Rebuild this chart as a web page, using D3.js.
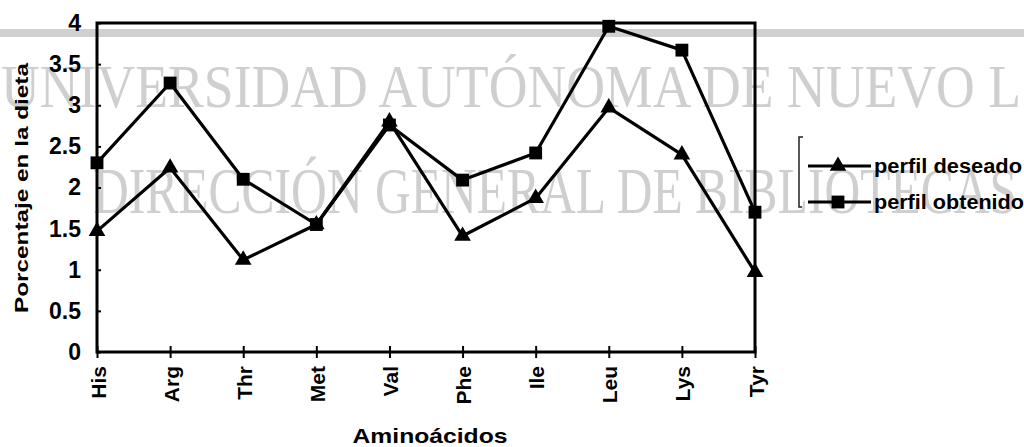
<!DOCTYPE html>
<html>
<head>
<meta charset="utf-8">
<script src="https://cdn.jsdelivr.net/npm/d3@7"></script>
<style>
  html, body { margin: 0; padding: 0; background: #fff; }
  svg { display: block; }
</style>
</head>
<body>
<svg id="chart" width="1024" height="447"></svg>
<script>
// ---- data ----
const categories = ["His", "Arg", "Thr", "Met", "Val", "Phe", "Ile", "Leu", "Lys", "Tyr"];
const perfilDeseado = [1.47, 2.24, 1.12, 1.55, 2.80, 1.41, 1.87, 2.97, 2.40, 0.97];
const perfilObtenido = [2.30, 3.27, 2.10, 1.55, 2.76, 2.09, 2.42, 3.96, 3.67, 1.70];
const yTicks = [0, 0.5, 1, 1.5, 2, 2.5, 3, 3.5, 4];
const seriesNames = ["perfil deseado", "perfil obtenido"];
const yTitle = "Porcentaje en la dieta";
const xTitle = "Aminoácidos";
const watermark1 = "UNIVERSIDAD AUTÓNOMA DE NUEVO L";
const watermark2 = "DIRECCIÓN GENERAL DE BIBLIOTECAS";

const svg = d3.select("#chart");
const W = 1024, H = 447;
const plot = { left: 97, right: 755, top: 23, bottom: 352 };

svg.append("rect").attr("width", W).attr("height", H).attr("fill", "#fff");

// ---- scan watermark (behind the chart) ----
svg.append("rect").attr("x", 0).attr("y", 29).attr("width", W).attr("height", 8).attr("fill", "#d0d0d0");
const wm = svg.append("g").attr("fill", "#cfcfcf").attr("font-family", "'Liberation Serif', 'Times New Roman', serif");
wm.append("text").attr("x", 1).attr("y", 107).attr("font-size", 62)
  .attr("textLength", 1020).attr("lengthAdjust", "spacingAndGlyphs").text(watermark1);
wm.append("text").attr("x", 93).attr("y", 213).attr("font-size", 66)
  .attr("textLength", 924).attr("lengthAdjust", "spacingAndGlyphs").text(watermark2);

// ---- scales ----
const x = d3.scalePoint().domain(categories).range([plot.left, plot.right]).padding(0);
const y = d3.scaleLinear().domain([0, 4]).range([plot.bottom, plot.top]);

const g = svg.append("g");

// frame
g.append("rect")
  .attr("x", plot.left).attr("y", plot.top)
  .attr("width", plot.right - plot.left).attr("height", plot.bottom - plot.top)
  .attr("fill", "none").attr("stroke", "#000").attr("stroke-width", 3);

// y axis
const yAxis = d3.axisLeft(y).tickValues(yTicks).tickSize(-4).tickPadding(16)
  .tickFormat(d => String(d));
const yg = g.append("g").attr("transform", `translate(${plot.left},0)`).call(yAxis);
yg.select(".domain").remove();
yg.selectAll(".tick line").attr("stroke", "#000").attr("stroke-width", 2);
yg.selectAll(".tick text")
  .attr("font-family", "'Liberation Sans', Arial, sans-serif")
  .attr("font-weight", "bold").attr("font-size", 23).attr("fill", "#000");

// x axis
const xAxis = d3.axisBottom(x).tickSize(6).tickPadding(0);
const xg = g.append("g").attr("transform", `translate(0,${plot.bottom})`).call(xAxis);
xg.select(".domain").remove();
xg.selectAll(".tick line").attr("y1", -6).attr("y2", 6).attr("stroke", "#000").attr("stroke-width", 2);
xg.selectAll(".tick text")
  .attr("font-family", "'Liberation Sans', Arial, sans-serif")
  .attr("font-weight", "bold").attr("font-size", 21).attr("fill", "#000")
  .attr("text-anchor", "end")
  .attr("dy", null)
  .attr("transform", "translate(8,14) rotate(-90)")
  .attr("x", 0).attr("y", 0);

// axis titles
g.append("text")
  .attr("transform", "translate(28,188) rotate(-90)")
  .attr("text-anchor", "middle")
  .attr("font-family", "'Liberation Sans', Arial, sans-serif")
  .attr("font-weight", "bold").attr("font-size", 19)
  .attr("textLength", 250).attr("lengthAdjust", "spacingAndGlyphs")
  .text(yTitle);
g.append("text")
  .attr("x", 430).attr("y", 443)
  .attr("text-anchor", "middle")
  .attr("font-family", "'Liberation Sans', Arial, sans-serif")
  .attr("font-weight", "bold").attr("font-size", 21)
  .attr("textLength", 155).attr("lengthAdjust", "spacingAndGlyphs")
  .text(xTitle);

// ---- series ----
const line = d3.line().x((d, i) => x(categories[i])).y(d => y(d));
const triangle = d3.symbol().type(d3.symbolTriangle).size(120);
const square = d3.symbol().type(d3.symbolSquare).size(165);

function drawSeries(values, sym) {
  g.append("path").datum(values)
    .attr("d", line).attr("fill", "none").attr("stroke", "#000")
    .attr("stroke-width", 3.2).attr("stroke-linejoin", "round");
  g.append("g").selectAll("path").data(values).join("path")
    .attr("d", sym)
    .attr("transform", (d, i) => `translate(${x(categories[i])},${y(d)})`)
    .attr("fill", "#000");
}
drawSeries(perfilDeseado, triangle);
drawSeries(perfilObtenido, square);

// ---- legend ----
const lg = svg.append("g");
lg.append("path").attr("d", "M803,137 L799,137 L799,207 L802,207")
  .attr("fill", "none").attr("stroke", "#222").attr("stroke-width", 1.5);
const legendRows = [
  { name: seriesNames[0], y: 166, sym: triangle, len: 148 },
  { name: seriesNames[1], y: 202, sym: square, len: 150 }
];
legendRows.forEach(r => {
  lg.append("line").attr("x1", 808).attr("x2", 871).attr("y1", r.y).attr("y2", r.y)
    .attr("stroke", "#000").attr("stroke-width", 3);
  lg.append("path").attr("d", r.sym).attr("transform", `translate(838,${r.y})`).attr("fill", "#000");
  lg.append("text").attr("x", 874).attr("y", r.y + 7)
    .attr("font-family", "'Liberation Sans', Arial, sans-serif")
    .attr("font-weight", "bold").attr("font-size", 20)
    .attr("textLength", r.len).attr("lengthAdjust", "spacingAndGlyphs")
    .text(r.name);
});
</script>
</body>
</html>
